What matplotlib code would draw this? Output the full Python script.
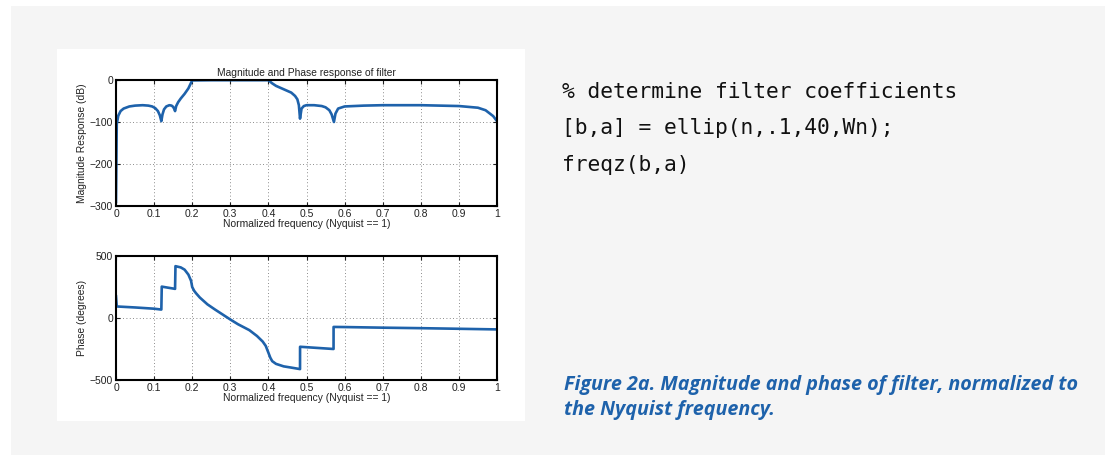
import numpy as np
import matplotlib
matplotlib.use('Agg')
import matplotlib.pyplot as plt
from matplotlib.patches import Rectangle

W, H = 1116, 461
blue = '#1e62ab'

# magnitude response (dB) vs normalized frequency
mag_f = [0.0, 0.002, 0.006, 0.012, 0.02, 0.035, 0.05, 0.07, 0.085, 0.095, 0.103, 0.11, 0.115, 0.119,
         0.122, 0.126, 0.132, 0.14, 0.146, 0.15, 0.153, 0.155, 0.158, 0.163, 0.17, 0.18, 0.19, 0.2,
         0.25, 0.3, 0.35, 0.4, 0.41, 0.42, 0.44, 0.46, 0.47, 0.476, 0.48, 0.483, 0.487, 0.493,
         0.5, 0.52, 0.54, 0.55, 0.56, 0.566, 0.572, 0.576, 0.583, 0.6, 0.65, 0.7, 0.8, 0.85,
         0.9, 0.95, 0.97, 0.99, 1.0]
mag_db = [-290, -105, -85, -74, -68, -63, -61, -60, -61, -63, -67, -74, -84, -98,
          -82, -70, -63, -60, -61, -64, -69, -74, -62, -53, -44, -33, -20, -1,
          -0.5, -0.5, -0.5, -0.5, -8, -14, -22, -30, -38, -46, -60, -92, -68, -62,
          -60, -60, -62, -65, -72, -82, -100, -80, -68, -63, -61, -60, -60, -61,
          -62, -66, -72, -86, -98]

# phase (degrees) vs normalized frequency
ph_f = [0.0, 0.002, 0.05, 0.1, 0.119, 0.1201, 0.155, 0.1561, 0.17, 0.18, 0.19, 0.197, 0.2,
        0.205, 0.21, 0.22, 0.24, 0.26, 0.28, 0.3, 0.32, 0.35, 0.37, 0.385, 0.393, 0.4, 0.405,
        0.41, 0.42, 0.44, 0.46, 0.483, 0.4831, 0.571, 0.5711, 0.6, 0.7, 0.8, 0.9, 1.0]
ph_deg = [175, 93, 85, 75, 68, 253, 235, 418, 408, 390, 350, 300, 250,
          220, 200, 165, 110, 68, 28, -12, -50, -98, -145, -190, -225, -280, -320,
          -348, -370, -390, -400, -412, -232, -250, -72, -73, -78, -82, -87, -92]

x_ticks = [0, 0.1, 0.2, 0.3, 0.4, 0.5, 0.6, 0.7, 0.8, 0.9, 1]
x_labels = ['0', '0.1', '0.2', '0.3', '0.4', '0.5', '0.6', '0.7', '0.8', '0.9', '1']

code_lines = ['% determine filter coefficients', '[b,a] = ellip(n,.1,40,Wn);', 'freqz(b,a)']
caption = ['Figure 2a. Magnitude and phase of filter, normalized to', 'the Nyquist frequency.']

plt.rcParams['font.family'] = ['Liberation Sans', 'DejaVu Sans']

fig = plt.figure(figsize=(W / 100, H / 100), dpi=100)
fig.patch.set_facecolor('white')


def box(x0, y0, x1, y1, color):
    fig.patches.append(Rectangle((x0 / W, 1 - y1 / H), (x1 - x0) / W, (y1 - y0) / H,
                                 transform=fig.transFigure, facecolor=color,
                                 edgecolor='none', zorder=-10))


box(11, 6, 1105, 455, '#f5f5f5')
box(57, 49, 525, 421, 'white')


def make_axes(top, bottom):
    ax = fig.add_axes([116 / W, 1 - bottom / H, 381 / W, (bottom - top) / H])
    ax.set_xlim(0, 1)
    ax.set_xticks(x_ticks)
    ax.set_xticklabels(x_labels)
    ax.grid(True, color='#666666', linestyle=(0, (1, 3)), linewidth=0.6)
    ax.tick_params(direction='in', length=3, width=0.8, labelsize=7.5, pad=2,
                   top=True, right=True, colors='#222222')
    for s in ax.spines.values():
        s.set_linewidth(1.5)
    ax.set_xlabel('Normalized frequency (Nyquist == 1)', fontsize=7.4, labelpad=0,
                  color='#222222')
    return ax


ax1 = make_axes(80, 206)
ax1.plot(mag_f, mag_db, color=blue, linewidth=1.9)
ax1.set_ylim(-300, 0)
ax1.set_yticks([-300, -200, -100, 0])
ax1.set_ylabel('Magnitude Response (dB)', fontsize=7.4, labelpad=2, color='#222222')
ax1.set_title('Magnitude and Phase response of filter', fontsize=7.4, pad=3, color='#222222')

ax2 = make_axes(256, 380)
ax2.plot(ph_f, ph_deg, color=blue, linewidth=1.9)
ax2.set_ylim(-500, 500)
ax2.set_yticks([-500, 0, 500])
ax2.set_ylabel('Phase (degrees)', fontsize=7.4, labelpad=2, color='#222222')

for i, line in enumerate(code_lines):
    fig.text(562 / W, 1 - (92 + 36.5 * i) / H, line, family='DejaVu Sans Mono',
             fontsize=15.3, va='center', ha='left', color='#111111')

for i, line in enumerate(caption):
    fig.text(564 / W, 1 - (385 + 25 * i) / H, line, fontsize=14.2, fontweight='bold',
             fontstyle='italic', va='center', ha='left', color=blue,
             family=['Open Sans', 'DejaVu Sans'])

fig.savefig('out.png', dpi=100)
